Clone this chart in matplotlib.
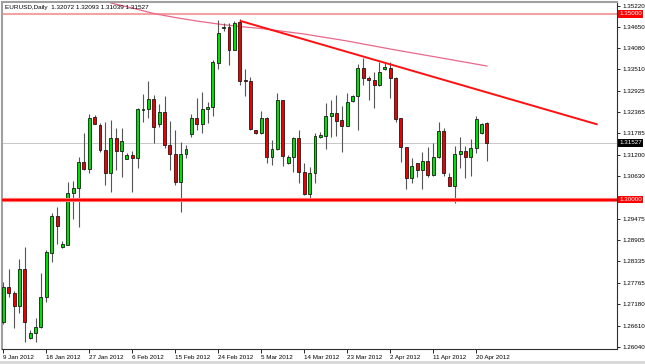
import matplotlib
matplotlib.use("Agg")
import matplotlib.pyplot as plt
import matplotlib.transforms as mtransforms
from matplotlib.patches import Rectangle
import numpy as np

plt.rcParams['font.family'] = ['Liberation Sans', 'DejaVu Sans']

header_text = "EURUSD,Daily  1.32072 1.32093 1.31039 1.31527"

date_labels = ["9 Jan 2012", "18 Jan 2012", "27 Jan 2012", "6 Feb 2012", "15 Feb 2012",
               "24 Feb 2012", "5 Mar 2012", "14 Mar 2012", "23 Mar 2012", "2 Apr 2012",
               "11 Apr 2012", "20 Apr 2012"]

opens = [1.26697, 1.27639, 1.27478, 1.27144, 1.28132, 1.26266, 1.26401, 1.26578, 1.27386, 1.28570,
         1.29558, 1.28732, 1.28786, 1.30186, 1.30304, 1.31012, 1.30824, 1.32232, 1.32008, 1.31335,
         1.30708, 1.31650, 1.31308, 1.31085, 1.31193, 1.31128, 1.32420, 1.32431, 1.32716, 1.32027,
         1.32350, 1.31478, 1.31228, 1.30482, 1.31219, 1.31758, 1.32189, 1.32027, 1.32431, 1.32501,
         1.33686, 1.34612, 1.34655, 1.34027, 1.34789, 1.33220, 1.33201, 1.31874, 1.31801, 1.32189,
         1.31155, 1.31354, 1.32681, 1.30977, 1.31155, 1.31650, 1.30735, 1.30151, 1.30708, 1.31693,
         1.31712, 1.32251, 1.32339, 1.32143, 1.31989, 1.32654, 1.32781, 1.33535, 1.33266, 1.33220,
         1.33085, 1.33524, 1.33535, 1.33266, 1.32189, 1.31408, 1.30573, 1.30977, 1.30797, 1.31039,
         1.30662, 1.31139, 1.31847, 1.30617, 1.30374, 1.31219, 1.31308, 1.31139, 1.31381, 1.31785,
         1.32072]
highs = [1.27790, 1.28124, 1.27539, 1.28393, 1.28716, 1.26490, 1.26804, 1.28032, 1.28643, 1.29647,
         1.29809, 1.28877, 1.30482, 1.30501, 1.31155, 1.31801, 1.32304, 1.32278, 1.32062, 1.32097,
         1.32143, 1.31919, 1.31928, 1.31263, 1.31322, 1.32453, 1.32843, 1.33193, 1.32816, 1.32566,
         1.32797, 1.32116, 1.31874, 1.31543, 1.31470, 1.32296, 1.32727, 1.32905, 1.32636, 1.33758,
         1.34835, 1.34746, 1.34746, 1.34816, 1.34862, 1.33529, 1.33301, 1.31887, 1.32385, 1.32224,
         1.31605, 1.32878, 1.32695, 1.31201, 1.31693, 1.31874, 1.30977, 1.30886, 1.31801, 1.31828,
         1.32601, 1.32681, 1.32816, 1.32520, 1.32878, 1.32816, 1.33642, 1.33804, 1.33327, 1.33443,
         1.33704, 1.33669, 1.33712, 1.33301, 1.32197, 1.31416, 1.31112, 1.30993, 1.31290, 1.31408,
         1.31516, 1.32097, 1.31936, 1.30724, 1.31443, 1.31677, 1.31443, 1.31623, 1.32251, 1.32054,
         1.32093]
lows = [1.26651, 1.27370, 1.26535, 1.26939, 1.26175, 1.26247, 1.26175, 1.26535, 1.27251, 1.28328,
        1.28805, 1.28689, 1.28786, 1.29486, 1.29254, 1.30797, 1.30724, 1.32027, 1.31290, 1.30393,
        1.30213, 1.30797, 1.30617, 1.31085, 1.30213, 1.30843, 1.32097, 1.32205, 1.31532, 1.31963,
        1.31381, 1.30797, 1.30393, 1.29674, 1.31112, 1.31693, 1.31874, 1.31801, 1.32054, 1.32251,
        1.33516, 1.34547, 1.33624, 1.34027, 1.33085, 1.32789, 1.31874, 1.31766, 1.31766, 1.30977,
        1.30931, 1.31335, 1.30905, 1.30958, 1.30735, 1.30455, 1.30137, 1.29989, 1.30439, 1.31650,
        1.31354, 1.31693, 1.31712, 1.31290, 1.31981, 1.32627, 1.31874, 1.33085, 1.32681, 1.32458,
        1.33058, 1.33489, 1.32727, 1.32097, 1.31020, 1.30285, 1.30455, 1.30617, 1.30277, 1.30617,
        1.30635, 1.31112, 1.30635, 1.30366, 1.29900, 1.30843, 1.30573, 1.30635, 1.31246, 1.31758,
        1.31039]
closes = [1.27655, 1.27478, 1.27144, 1.28132, 1.26697, 1.26401, 1.26578, 1.27386, 1.28589, 1.29558,
          1.29289, 1.28805, 1.30186, 1.30304, 1.31012, 1.30824, 1.32189, 1.32027, 1.31335, 1.30708,
          1.31650, 1.31308, 1.31578, 1.31193, 1.31128, 1.32431, 1.32431, 1.32716, 1.31963, 1.32350,
          1.31478, 1.31228, 1.30482, 1.31228, 1.31354, 1.32189, 1.32027, 1.32447, 1.32501, 1.33712,
          1.34493, 1.34655, 1.34027, 1.34746, 1.33201, 1.33201, 1.31909, 1.31806, 1.32189, 1.31155,
          1.31354, 1.32681, 1.31182, 1.31155, 1.31650, 1.30735, 1.30151, 1.30708, 1.31712, 1.31739,
          1.32251, 1.32339, 1.32124, 1.31989, 1.32619, 1.32781, 1.33535, 1.33266, 1.33220, 1.33085,
          1.33427, 1.33562, 1.33266, 1.32170, 1.31408, 1.30573, 1.30913, 1.30797, 1.31039, 1.30662,
          1.31139, 1.31847, 1.30708, 1.30374, 1.31219, 1.31308, 1.31139, 1.31381, 1.32162, 1.32027,
          1.31527]

ma_bars = [20, 24, 28, 32, 36, 40, 44, 48, 56, 64, 72, 80, 90]
ma_values = [1.35293, 1.35158, 1.35010, 1.34902, 1.34808, 1.34727, 1.34660, 1.34606,
             1.34458, 1.34270, 1.34054, 1.33852, 1.33597]

trend_bars = [44, 110.6]
trend_values = [1.34816, 1.32022]

upper_level = 1.35000
support_level = 1.30000
last_price = 1.31527

y_ticks = [1.35220, 1.34650, 1.34080, 1.33510, 1.32925, 1.32365, 1.31785, 1.31200,
           1.30630, 1.29475, 1.28905, 1.28335, 1.27765, 1.27180, 1.26610, 1.26040]

W, H = 645, 364
fig = plt.figure(figsize=(W / 100, H / 100), dpi=100)
fig.patch.set_facecolor('white')
ax = fig.add_axes([2 / W, 15 / H, 615 / W, 347 / H])
ax.set_facecolor('white')

n = len(opens)
x = np.arange(n)
o = np.array(opens); c = np.array(closes); h = np.array(highs); l = np.array(lows)
up = c >= o

# wicks
ax.vlines(x, l, h, color='#555555', lw=0.8, zorder=3)
# bodies
body_h = np.maximum(np.abs(c - o), 0.00004)
body_b = np.minimum(o, c)
cols = np.where(up, '#00e000', '#ee0000')
ax.bar(x, body_h, bottom=body_b, width=0.55, color=cols, edgecolor='#1a1a1a',
       linewidth=0.6, zorder=4)

# levels
ax.axhline(upper_level, color='#f4a3a3', lw=1.5, zorder=2)
ax.axhline(support_level, color='#ff8a8a', lw=3.0, zorder=5)
ax.axhline(support_level, color='#ff0000', lw=1.7, zorder=5)
ax.axhline(last_price, color='#c8c8c8', lw=0.7, zorder=1)

# moving average
ax.plot(ma_bars, ma_values, color='#e8698a', lw=0.9, zorder=2)
# trend line
ax.plot(trend_bars, trend_values, color='#ff1010', lw=1.4, zorder=6,
        solid_capstyle='butt')

ax.set_xlim(-0.24, 114.2)
ax.set_ylim(1.25978, 1.35320)

ax.yaxis.tick_right()
ax.set_yticks(y_ticks)
ax.set_yticklabels([f"{v:.5f}" for v in y_ticks])
ax.tick_params(axis='y', direction='out', length=2.5, width=0.6, pad=1.5,
               labelsize=4.5, colors='#000000')

ax.set_xticks(np.arange(0, n, 8)[:len(date_labels)])
ax.set_xticklabels(date_labels, ha='left')
ax.tick_params(axis='x', direction='out', length=3, width=0.6, pad=1.2,
               labelsize=4.5, colors='#000000')

for side in ['left', 'top']:
    ax.spines[side].set_color('#a0a0a0')
    ax.spines[side].set_linewidth(1.5)
for side in ['right', 'bottom']:
    ax.spines[side].set_color('#303030')
    ax.spines[side].set_linewidth(0.8)

trans = mtransforms.blended_transform_factory(ax.transAxes, ax.transData)
for val, fc in [(upper_level, '#ff0000'), (last_price, '#000000'), (support_level, '#ff0000')]:
    ax.text(1.004, val, f"{val:.5f}", transform=trans, ha='left', va='center',
            fontsize=4.5, color='white', zorder=10, clip_on=False,
            bbox=dict(facecolor=fc, edgecolor='none', pad=0.9))

fig.text(5 / W, 1 - 8 / H, header_text, ha='left', va='center', fontsize=4.6, color='black')

fig.patches.append(Rectangle((0, 0), 1, 3 / H, transform=fig.transFigure,
                             facecolor='#d8d8d8', edgecolor='none', zorder=0))

fig.savefig('out.png', dpi=100, facecolor='white')
